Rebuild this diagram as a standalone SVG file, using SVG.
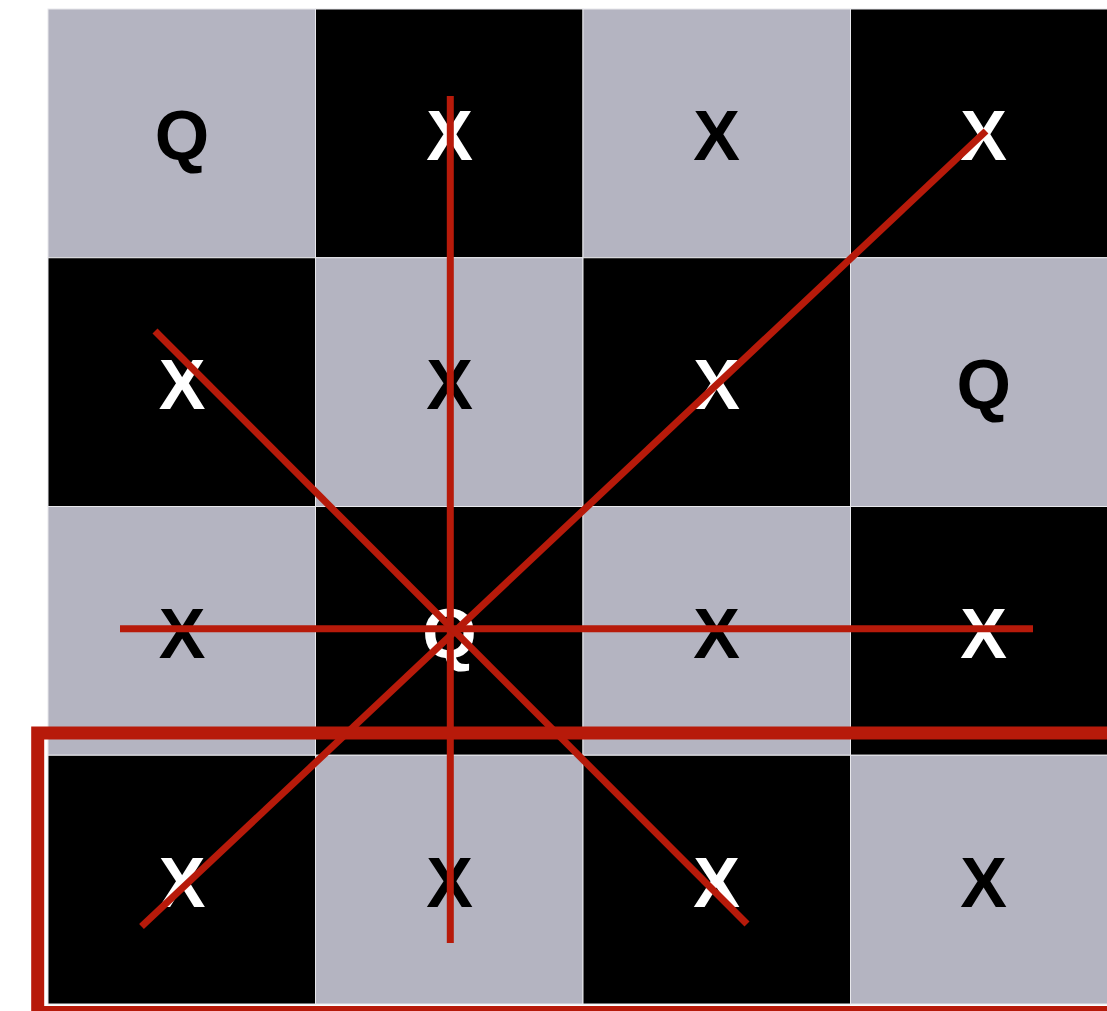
<svg xmlns="http://www.w3.org/2000/svg" width="1107" height="1011" viewBox="0 0 1107 1011">
<style>
.g{fill:#b4b4c1;stroke:#e8e8ec;stroke-width:1}
.b{fill:#000;stroke:#e8e8ec;stroke-width:1}
.t{font-family:"Liberation Sans",Arial,sans-serif;font-weight:bold;font-size:70px;text-anchor:middle}
.tw{fill:#fff}
.tb{fill:#000}
.r{stroke:#b71a0a;stroke-width:7;fill:none}
.rb{stroke:#b71a0a;stroke-width:13;fill:none}
</style>
<rect width="1107" height="1011" fill="#fff"/>
<g id="board">
<g id="c00"><rect class="g" x="48" y="9" width="267.5" height="248.75"/><text class="t tb" x="182" y="160">Q</text></g>
<g id="c01"><rect class="b" x="315.5" y="9" width="267.5" height="248.75"/><text class="t tw" x="449.5" y="160">X</text></g>
<g id="c02"><rect class="g" x="583" y="9" width="267.5" height="248.75"/><text class="t tb" x="716.5" y="160">X</text></g>
<g id="c03"><rect class="b" x="850.5" y="9" width="267.5" height="248.75"/><text class="t tw" x="983.7" y="160">X</text></g>

<g id="c10"><rect class="b" x="48" y="257.75" width="267.5" height="248.75"/><text class="t tw" x="182" y="409">X</text></g>
<g id="c11"><rect class="g" x="315.5" y="257.75" width="267.5" height="248.75"/><text class="t tb" x="449.5" y="409">X</text></g>
<g id="c12"><rect class="b" x="583" y="257.75" width="267.5" height="248.75"/><text class="t tw" x="716.5" y="409">X</text></g>
<g id="c13"><rect class="g" x="850.5" y="257.75" width="267.5" height="248.75"/><text class="t tb" x="983.7" y="409">Q</text></g>

<g id="c20"><rect class="g" x="48" y="506.5" width="267.5" height="248.75"/><text class="t tb" x="182" y="658">X</text></g>
<g id="c21"><rect class="b" x="315.5" y="506.5" width="267.5" height="248.75"/><text class="t tw" x="449.5" y="658">Q</text></g>
<g id="c22"><rect class="g" x="583" y="506.5" width="267.5" height="248.75"/><text class="t tb" x="716.5" y="658">X</text></g>
<g id="c23"><rect class="b" x="850.5" y="506.5" width="267.5" height="248.75"/><text class="t tw" x="983.7" y="658">X</text></g>

<g id="c30"><rect class="b" x="48" y="755.25" width="267.5" height="248.75"/><text class="t tw" x="182" y="907">X</text></g>
<g id="c31"><rect class="g" x="315.5" y="755.25" width="267.5" height="248.75"/><text class="t tb" x="449.5" y="907">X</text></g>
<g id="c32"><rect class="b" x="583" y="755.25" width="267.5" height="248.75"/><text class="t tw" x="716.5" y="907">X</text></g>
<g id="c33"><rect class="g" x="850.5" y="755.25" width="267.5" height="248.75"/><text class="t tb" x="983.7" y="907">X</text></g>
</g>
<g id="connectors">
<line class="r" x1="450.3" y1="96" x2="450.3" y2="943"/>
<line class="r" x1="120" y1="628.8" x2="1033" y2="628.8"/>
<line class="r" x1="141.5" y1="926.5" x2="986" y2="131"/>
<line class="r" x1="155" y1="331" x2="747" y2="924"/>
<rect class="rb" x="37.7" y="733" width="1100" height="279.5"/>
</g>
</svg>
